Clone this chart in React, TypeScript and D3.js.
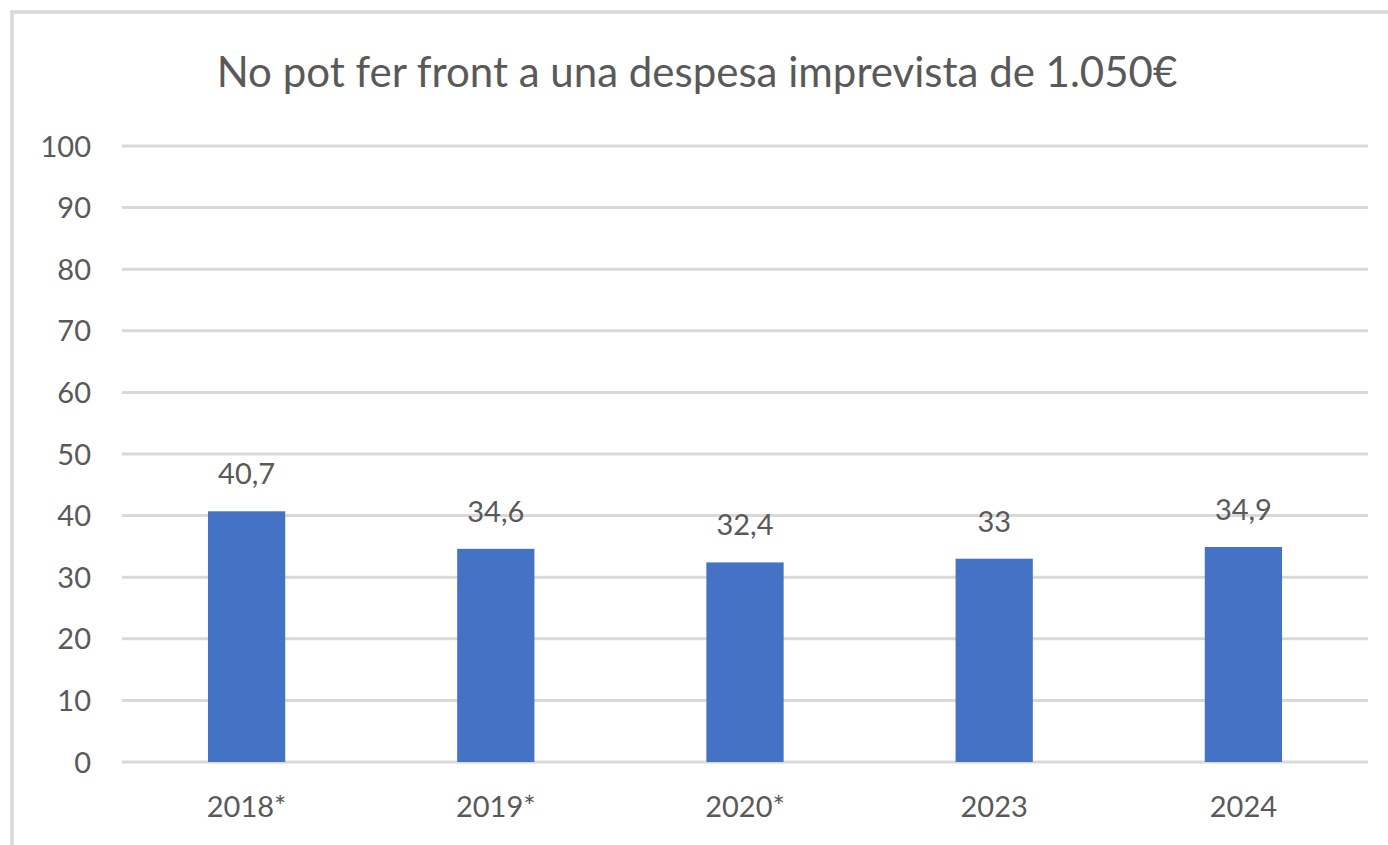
import React, { useEffect, useRef } from "react";
import * as d3 from "d3";

const title = "No pot fer front a una despesa imprevista de 1.050€";
const categories = ["2018*", "2019*", "2020*", "2023", "2024"];
const values = [40.7, 34.6, 32.4, 33, 34.9];
const valueLabels = ["40,7", "34,6", "32,4", "33", "34,9"];
const yTicks = [0, 10, 20, 30, 40, 50, 60, 70, 80, 90, 100];

const W = 1388;
const H = 845;
const FONT = "Lato, 'Open Sans', sans-serif";
const TEXT = "#595959";
const GRID = "#d9d9d9";
const BAR = "#4472c4";

export default function App() {
  const ref = useRef<SVGSVGElement>(null);

  useEffect(() => {
    const svg = d3.select(ref.current);
    svg.selectAll("*").remove();

    const left = 122, right = 1368, top = 146, bottom = 762;
    const x = d3.scaleBand<string>().domain(categories).range([left, right]).paddingInner(0.69).paddingOuter(0.345);
    const y = d3.scaleLinear().domain([0, 100]).range([bottom, top]);

    svg.append("rect").attr("width", W).attr("height", H).attr("fill", "#fff");
    // chart border
    svg.append("path")
      .attr("d", `M12,${H + 5} L12,12 L${W + 5},12`)
      .attr("fill", "none").attr("stroke", GRID).attr("stroke-width", 3.5);

    svg.append("text")
      .attr("x", 697).attr("y", 87)
      .attr("text-anchor", "middle").attr("font-family", FONT)
      .attr("font-size", 42).attr("fill", TEXT).text(title);

    const g = svg.append("g");
    g.selectAll("line.grid").data(yTicks).join("line")
      .attr("x1", left).attr("x2", right)
      .attr("y1", (d) => y(d)).attr("y2", (d) => y(d))
      .attr("stroke", GRID).attr("stroke-width", 3);

    g.selectAll("text.ytick").data(yTicks).join("text")
      .attr("x", 91).attr("y", (d) => y(d) + 10.5)
      .attr("text-anchor", "end").attr("font-family", FONT)
      .attr("font-size", 29).attr("fill", TEXT).text((d) => String(d));

    g.selectAll("rect.bar").data(values).join("rect")
      .attr("x", (_, i) => x(categories[i])!)
      .attr("width", x.bandwidth())
      .attr("y", (d) => y(d)).attr("height", (d) => y(0) - y(d))
      .attr("fill", BAR);

    g.selectAll("text.val").data(values).join("text")
      .attr("x", (_, i) => x(categories[i])! + x.bandwidth() / 2)
      .attr("y", (d) => y(d) - 27)
      .attr("text-anchor", "middle").attr("font-family", FONT)
      .attr("font-size", 29).attr("fill", TEXT).text((_, i) => valueLabels[i]);

    g.selectAll("text.cat").data(categories).join("text")
      .attr("x", (d) => x(d)! + x.bandwidth() / 2).attr("y", 817)
      .attr("text-anchor", "middle").attr("font-family", FONT)
      .attr("font-size", 29).attr("fill", TEXT).text((d) => d);
  }, []);

  return (
    <svg ref={ref} width={W} height={H} style={{ position: "absolute", left: 0, top: 0 }} />
  );
}
